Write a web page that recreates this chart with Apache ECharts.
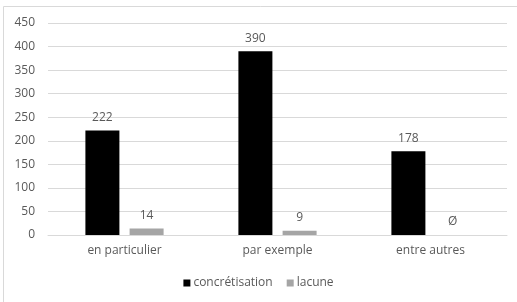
<!DOCTYPE html>
<html>
<head>
<meta charset="utf-8">
<script src="https://cdn.jsdelivr.net/npm/echarts@6/dist/echarts.min.js"></script>
<style>
  html, body { margin: 0; padding: 0; background: #fff; }
  #chart { width: 517px; height: 302px; }
</style>
</head>
<body>
<div id="chart"></div>
<script>
const categories = ['en particulier', 'par exemple', 'entre autres'];
const concretisation = [222, 390, 178];
const lacune = [14, 9, 0];
const lacuneLabels = ['14', '9', 'Ø'];
const yTicks = { min: 0, max: 450, interval: 50 };

const font = 'Open Sans';
const textColor = '#595959';

let chart = echarts.init(document.getElementById('chart'));

const chartOptions = {
  animation: false,
  textStyle: { fontFamily: font },
  grid: { left: 48, right: 10, top: 23, bottom: 67 },
  graphic: [
    { type: 'line', shape: { x1: 3.5, y1: 6.5, x2: 517, y2: 6.5 }, style: { stroke: '#d9d9d9', lineWidth: 1 } },
    { type: 'line', shape: { x1: 3.5, y1: 6.5, x2: 3.5, y2: 302 }, style: { stroke: '#d9d9d9', lineWidth: 1 } }
  ],
  legend: {
    bottom: 8,
    left: 'center',
    icon: 'rect',
    itemWidth: 7,
    itemHeight: 7,
    itemGap: 14,
    textStyle: { color: textColor, fontSize: 12, fontFamily: font, padding: [0, 0, 0, -2] },
    data: ['concrétisation', 'lacune']
  },
  xAxis: {
    type: 'category',
    data: categories,
    axisTick: { show: false },
    axisLine: { lineStyle: { color: '#d9d9d9' } },
    axisLabel: { color: textColor, fontSize: 12, margin: 10 }
  },
  yAxis: {
    type: 'value',
    min: yTicks.min,
    max: yTicks.max,
    interval: yTicks.interval,
    axisLine: { show: false },
    axisTick: { show: false },
    splitLine: { lineStyle: { color: '#d9d9d9' } },
    axisLabel: { color: textColor, fontSize: 12, margin: 13 }
  },
  series: [
    {
      name: 'concrétisation',
      type: 'bar',
      data: concretisation,
      barWidth: 34,
      barGap: '30%',
      itemStyle: { color: '#000000' },
      label: { show: true, position: 'top', distance: 7, color: textColor, fontSize: 12 }
    },
    {
      name: 'lacune',
      type: 'bar',
      data: lacune,
      barWidth: 34,
      itemStyle: { color: '#a5a5a5' },
      label: {
        show: true, position: 'top', distance: 7, color: textColor, fontSize: 12,
        formatter: function (params) {
          return lacuneLabels[params.dataIndex];
        }
      }
    }
  ]
};
chart.setOption(chartOptions);
</script>
</body>
</html>
